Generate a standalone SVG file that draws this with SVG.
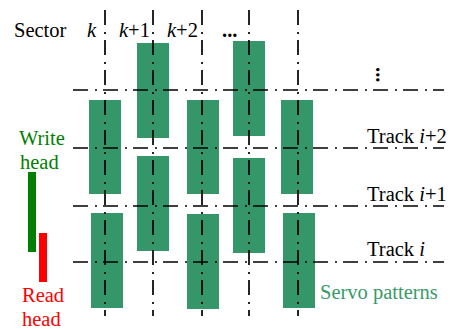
<svg xmlns="http://www.w3.org/2000/svg" width="450" height="329" viewBox="0 0 450 329">
<style>
text{font-family:"Liberation Serif","Times New Roman",serif;font-size:20.5px;fill:#000}
.it{font-style:italic}
.servo{fill:#359669}
.grid{stroke:#000;stroke-width:1.7;fill:none;stroke-dasharray:15 7 2 6}
.green{fill:#008000}
.red{fill:#ff0000}
.sv{fill:#3a9a6a}
</style>
<rect width="450" height="329" fill="#fff"/>
<g id="servo-patterns">
<rect class="servo" x="89" y="100" width="32" height="94"/>
<rect class="servo" x="91" y="213" width="32" height="95"/>
<rect class="servo" x="137" y="43" width="32" height="95"/>
<rect class="servo" x="137" y="156" width="32" height="95"/>
<rect class="servo" x="187" y="100" width="32" height="94"/>
<rect class="servo" x="187" y="214" width="32" height="95"/>
<rect class="servo" x="233" y="41" width="32" height="95"/>
<rect class="servo" x="233" y="158" width="32" height="95"/>
<rect class="servo" x="281" y="100" width="32" height="94"/>
<rect class="servo" x="283" y="213" width="32" height="95"/>
</g>
<g id="connectors">
<line class="grid" x1="105" y1="10" x2="105" y2="316"/>
<line class="grid" x1="153" y1="10" x2="153" y2="316"/>
<line class="grid" x1="202" y1="10" x2="202" y2="316"/>
<line class="grid" x1="249" y1="10" x2="249" y2="316"/>
<line class="grid" x1="298" y1="10" x2="298" y2="316"/>
<line class="grid" x1="73" y1="90" x2="444" y2="90"/>
<line class="grid" x1="73" y1="148" x2="444" y2="148"/>
<line class="grid" x1="73" y1="206" x2="444" y2="206"/>
<line class="grid" x1="73" y1="262" x2="444" y2="262"/>
</g>
<g id="sector-labels">
<text x="14" y="37">Sector</text>
<text class="it" x="87" y="37">k</text>
<text x="119" y="37"><tspan class="it">k</tspan>+1</text>
<text x="167" y="37"><tspan class="it">k</tspan>+2</text>
<text x="222" y="37" font-weight="bold">...</text>
<text x="370" y="77" font-weight="bold" transform="rotate(90 378 75)">...</text>
</g>
<g id="track-labels">
<text x="367" y="143">Track <tspan class="it">i</tspan>+2</text>
<text x="367" y="201">Track <tspan class="it">i</tspan>+1</text>
<text x="367" y="256">Track <tspan class="it">i</tspan></text>
</g>
<g id="write-head">
<rect class="green" x="28" y="172" width="8" height="80"/>
<text class="green" x="19" y="145">Write</text>
<text class="green" x="20" y="169">head</text>
</g>
<g id="read-head">
<rect class="red" x="39" y="233" width="8" height="49"/>
<text class="red" x="22" y="302">Read</text>
<text class="red" x="22" y="326">head</text>
</g>
<g id="servo-label">
<text class="sv" x="320" y="299">Servo patterns</text>
</g>
</svg>
